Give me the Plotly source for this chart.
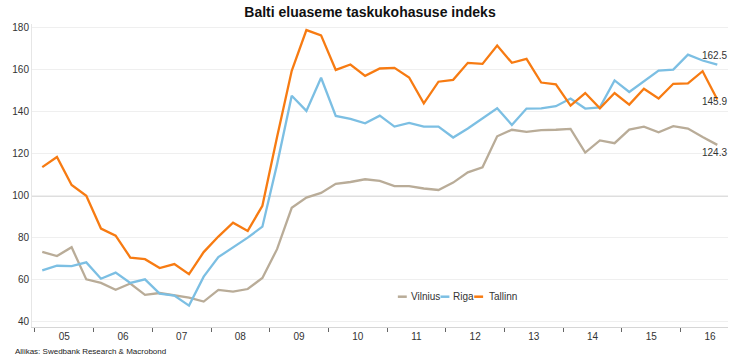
import plotly.graph_objects as go

# ---- data (quarterly, 2005Q1 .. 2016Q3) ----
years = list(range(2005, 2017))
quarters = [f"{y}Q{q}" for y in years for q in range(1, 5)][:47]

vilnius = [73.3, 71.3, 75.5, 60.2, 58.5, 55.2, 58.2, 52.8,
           53.7, 52.5, 51.5, 49.6, 55.2, 54.4, 55.6, 60.9,
           74.6, 94.3, 99.2, 101.4, 105.7, 106.6, 107.9, 107.1,
           104.6, 104.6, 103.5, 102.8, 106.3, 111.2, 113.6, 128.4,
           131.5, 130.5, 131.3, 131.5, 131.9, 120.6, 126.4, 125.1,
           131.6, 133.0, 130.3, 133.2, 132.1, 128.0, 124.3]
riga = [64.5, 66.7, 66.5, 68.3, 60.5, 63.4, 58.5, 60.2,
        53.4, 52.5, 47.7, 61.5, 70.8, 75.4, 80.1, 85.3,
        115.0, 147.7, 140.5, 156.3, 138.1, 136.7, 134.6, 138.2,
        133.0, 134.8, 133.0, 133.0, 127.8, 132.1, 136.7, 141.7,
        133.8, 141.6, 141.7, 142.7, 146.4, 141.6, 142.2, 155.0,
        149.5, 154.7, 159.7, 160.2, 167.3, 164.5, 162.5]
tallinn = [113.7, 118.5, 105.2, 100.0, 84.4, 81.0, 70.6, 69.8,
           65.6, 67.5, 62.7, 73.2, 80.6, 87.2, 83.3, 95.3,
           128.0, 159.6, 179.0, 176.5, 160.0, 162.6, 157.2, 160.7,
           161.0, 156.4, 144.1, 154.4, 155.3, 163.4, 162.9, 171.6,
           163.4, 165.3, 154.0, 153.1, 143.0, 149.0, 141.7, 149.0,
           143.5, 151.0, 146.4, 153.4, 153.6, 159.4, 145.9]

series_names = ["Vilnius", "Riga", "Tallinn"]
series_values = [vilnius, riga, tallinn]
series_colors = ["#B9AC98", "#7CBFE3", "#F77B12"]
label_shift = [-8, 9, -2]  # vertical offset of end labels (px)

year_labels = [f"{y % 100:02d}" for y in years]
y_ticks = list(range(40, 181, 20))

title_text = "Balti eluaseme taskukohasuse indeks"
source_text = "Allikas: Swedbank Research & Macrobond"

x = list(range(len(quarters)))
year_starts = [i - 0.5 for i, q in enumerate(quarters) if q.endswith("Q1")]
year_mids = [s + 2 for s in year_starts]

fig = go.Figure()
for name, vals, col in zip(series_names, series_values, series_colors):
    fig.add_trace(go.Scatter(x=x, y=vals, mode="lines", name=name,
                             line=dict(color=col, width=2.3),
                             customdata=quarters, showlegend=False,
                             hovertemplate="%{customdata}: %{y}<extra>" + name + "</extra>"))

# end labels
for vals, sh in zip(series_values, label_shift):
    fig.add_annotation(x=x[-1], y=vals[-1], text=f"{vals[-1]:.1f}", showarrow=False,
                       xanchor="center", yanchor="middle", xshift=-3, yshift=sh,
                       font=dict(size=10, color="#333333"))

# reference line at 100
fig.add_shape(type="line", xref="paper", x0=0, x1=1, yref="y", y0=100, y1=100,
              line=dict(color="#BDBDBD", width=1.2), layer="below")

# manual compact legend
leg_y = 0.099
leg_items_x = [(395, 406), (438, 449), (472, 485)]
for (lx, tx), name, col in zip(leg_items_x, series_names, series_colors):
    fig.add_shape(type="line", xref="paper", yref="paper",
                  x0=(lx - 26) / 702, x1=(lx + 9 - 26) / 702,
                  y0=(327 - 296.7) / 303, y1=(327 - 296.7) / 303,
                  line=dict(color=col, width=2.5))
    fig.add_annotation(xref="paper", yref="paper", x=(tx - 26) / 702,
                       y=(327 - 296.7) / 303, text=name, showarrow=False,
                       xanchor="left", yanchor="middle",
                       font=dict(size=10, color="#333333"))

fig.add_annotation(xref="paper", yref="paper", x=-19 / 702, y=-(351 - 327) / 303,
                   text=source_text, showarrow=False, xanchor="left", yanchor="middle",
                   font=dict(size=8, color="#222222"))

fig.update_layout(
    width=740, height=363,
    margin=dict(l=26, r=12, t=24, b=36),
    paper_bgcolor="white", plot_bgcolor="white",
    font=dict(family="Liberation Sans, Arial, sans-serif", color="#333333"),
    title=dict(text="<b>" + title_text + "</b>", x=0.5, xanchor="center",
               y=1 - 12 / 363, yanchor="middle",
               font=dict(size=14, color="#111111")),
    xaxis=dict(range=[-0.7, 46.73], tickmode="array", tickvals=year_mids,
               ticktext=year_labels, ticks="", showgrid=False, zeroline=False,
               showline=True, linecolor="#D6D6D6", linewidth=1,
               tickfont=dict(size=10, color="#333333"),
               minor=dict(tickmode="array", tickvals=year_starts, ticks="outside",
                          ticklen=4, tickcolor="#666666", tickwidth=1, showgrid=False)),
    yaxis=dict(range=[37.5, 181.9], tickmode="array", tickvals=y_ticks,
               showgrid=True, gridcolor="#EFEFEF", gridwidth=1, zeroline=False,
               showline=True, linecolor="#E6E6E6", ticks="",
               tickfont=dict(size=10, color="#333333")),
)

fig.write_html("out.html")
